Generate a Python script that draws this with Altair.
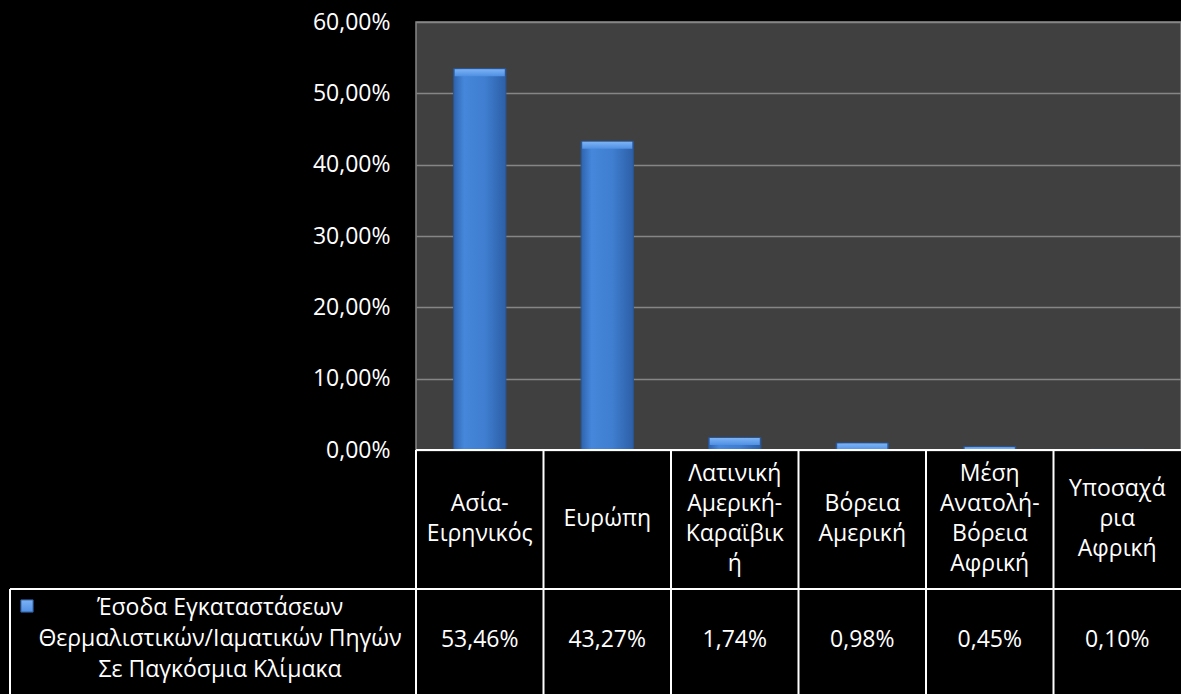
import altair as alt
import pandas as pd

categories = ["Ασία-\nΕιρηνικός", "Ευρώπη", "Λατινική\nΑμερική-\nΚαραϊβικ\nή",
              "Βόρεια\nΑμερική", "Μέση\nΑνατολή-\nΒόρεια\nΑφρική", "Υποσαχά\nρια\nΑφρική"]
values = [53.46, 43.27, 1.74, 0.98, 0.45, 0.10]
value_labels = ["53,46%", "43,27%", "1,74%", "0,98%", "0,45%", "0,10%"]
series_name = "Έσοδα Εγκαταστάσεων\nΘερμαλιστικών/Ιαματικών Πηγών\nΣε Παγκόσμια Κλίμακα"
y_ticks = [0, 10, 20, 30, 40, 50, 60]

LH = 30
df = pd.DataFrame({"cat": categories, "val": values, "lab": value_labels})
df["off"] = [-(c.count("\n")) * LH / 2 for c in categories]

FONT = "Open Sans"
W, H = 765, 428

xenc = alt.X("cat:N", sort=categories, axis=None,
             scale=alt.Scale(paddingInner=0, paddingOuter=0))
yscale = alt.Scale(domain=[0, 60], nice=False)

base = alt.Chart(df)

bar_grad = alt.Gradient(
    gradient="linear", x1=0, x2=1, y1=0, y2=0,
    stops=[alt.GradientStop(color="#2e63ad", offset=0),
           alt.GradientStop(color="#4687db", offset=0.2),
           alt.GradientStop(color="#3f7ed0", offset=0.6),
           alt.GradientStop(color="#2d5fa6", offset=1)])
cap_grad = alt.Gradient(
    gradient="linear", x1=0, x2=0, y1=0, y2=1,
    stops=[alt.GradientStop(color="#7cb3f5", offset=0),
           alt.GradientStop(color="#4f8fe3", offset=1)])

bars = base.mark_bar(width=alt.RelativeBandSize(0.41), fill=bar_grad,
                     stroke="#2a5595", strokeWidth=1).encode(
    x=xenc,
    y=alt.Y("val:Q", scale=yscale,
            axis=alt.Axis(values=y_ticks, title=None, domain=False, ticks=False,
                          labelPadding=26, labelFontSize=23, labelFont=FONT,
                          labelColor="white", gridColor="#868686", gridWidth=1.5,
                          labelExpr="replace(format(datum.value, '.2f'), '.', ',') + '%'")),
)
caps = base.mark_tick(orient="horizontal", size=50, thickness=7, yOffset=4,
                      fill=cap_grad, opacity=1, clip=True).encode(
    x=xenc, y=alt.Y("val:Q", scale=yscale))

cat_text = base.mark_text(color="white", font=FONT, fontSize=23, lineBreak="\n",
                          lineHeight=LH, baseline="middle", align="center").encode(
    x=alt.X("cat:N", sort=categories, axis=None, bandPosition=0.5),
    y=alt.value(519 - 22),
    yOffset=alt.YOffset("off:Q", scale=None),
    text="cat:N")
val_text = base.mark_text(color="white", font=FONT, fontSize=23,
                          baseline="middle", align="center").encode(
    x=alt.X("cat:N", sort=categories, axis=None, bandPosition=0.5),
    y=alt.value(640 - 22), text="lab:N")

vlines = base.mark_rule(color="white", strokeWidth=2).encode(
    x=alt.X("cat:N", sort=categories, axis=None, bandPosition=0),
    y=alt.value(H), y2=alt.value(700))

hline_top = base.mark_rule(color="white", strokeWidth=2).encode(
    x=alt.value(0), x2=alt.value(W), y=alt.value(H))
hline_mid = base.mark_rule(color="white", strokeWidth=2).encode(
    x=alt.value(10 - 416), x2=alt.value(W), y=alt.value(589 - 22))
vline_left = base.mark_rule(color="white", strokeWidth=2).encode(
    x=alt.value(10 - 416), y=alt.value(589 - 22), y2=alt.value(700))

legend_df = pd.DataFrame({"name": [series_name]})
legend_text = alt.Chart(legend_df).mark_text(
    color="white", font=FONT, fontSize=23, lineBreak="\n", lineHeight=31,
    baseline="middle", align="center").encode(
    x=alt.value(220 - 416), y=alt.value(608 - 22), text="name:N")
legend_icon = alt.Chart(legend_df).mark_square(
    size=150, fill=cap_grad, stroke="#2a5595", strokeWidth=1, opacity=1).encode(
    x=alt.value(27 - 416), y=alt.value(606 - 22))

chart = alt.layer(
    bars, caps, cat_text, val_text, vlines, hline_top, hline_mid, vline_left,
    legend_text, legend_icon
).resolve_scale(x="shared").properties(
    width=W, height=H,
    autosize=alt.AutoSizeParams(type="none"),
    padding={"left": 416, "top": 22, "right": 0, "bottom": 244},
    background="black",
).configure_view(fill="#404040", stroke="#868686", strokeWidth=1.5)

chart.save("out.html", embed_options={"renderer": "svg", "actions": False})
